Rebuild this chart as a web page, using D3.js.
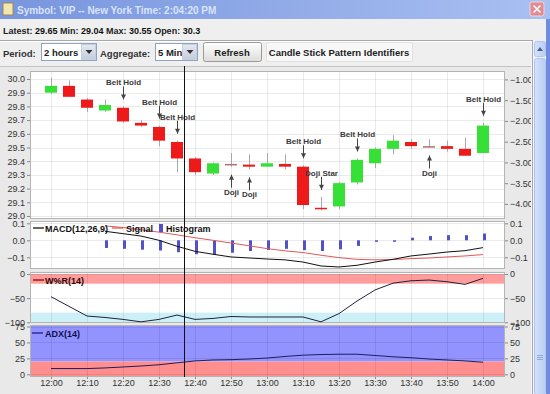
<!DOCTYPE html>
<html>
<head>
<meta charset="utf-8">
<script src="https://cdn.jsdelivr.net/npm/d3@7"></script>
<style>
body { margin: 0; background: #ebebeb; }
svg { display: block; font-family: "Liberation Sans", Arial, sans-serif; }
</style>
</head>
<body>
<script>
// Chart data (5 minute candles, 12:00 - 14:00)
var times = ["12:00","12:05","12:10","12:15","12:20","12:25","12:30","12:35","12:40","12:45","12:50","12:55",
             "13:00","13:05","13:10","13:15","13:20","13:25","13:30","13:35","13:40","13:45","13:50","13:55","14:00"];
var opens  = [29.90, 29.95, 29.85, 29.77, 29.79, 29.68, 29.65, 29.54, 29.42, 29.31, 29.38, 29.375, 29.36,
              29.38, 29.36, 29.06, 29.07, 29.245, 29.385, 29.49, 29.54, 29.51, 29.51, 29.49, 29.46];
var highs  = [30.01, 29.99, 29.86, 29.85, 29.80, 29.70, 29.66, 29.55, 29.43, 29.39, 29.46, 29.45, 29.46,
              29.45, 29.37, 29.14, 29.25, 29.42, 29.50, 29.59, 29.56, 29.56, 29.55, 29.57, 29.68];
var lows   = [29.89, 29.87, 29.76, 29.76, 29.68, 29.65, 29.51, 29.32, 29.30, 29.30, 29.36, 29.34, 29.36,
              29.34, 29.05, 29.04, 29.05, 29.23, 29.35, 29.45, 29.49, 29.50, 29.47, 29.44, 29.46];
var closes = [29.95, 29.87, 29.79, 29.81, 29.69, 29.66, 29.55, 29.42, 29.32, 29.385, 29.38, 29.36, 29.385,
              29.36, 29.08, 29.05, 29.24, 29.41, 29.49, 29.55, 29.51, 29.51, 29.49, 29.44, 29.66];

var macd      = [null, null, null, 0.053, 0.039, 0.025, 0.0, -0.035, -0.065, -0.082, -0.098, -0.104, -0.110,
                 -0.115, -0.128, -0.151, -0.157, -0.147, -0.128, -0.112, -0.092, -0.081, -0.069, -0.061, -0.043];
var signal    = [null, null, null, 0.085, 0.075, 0.062, 0.048, 0.032, 0.015, 0.0, -0.016, -0.032, -0.049,
                 -0.062, -0.072, -0.088, -0.102, -0.112, -0.115, -0.113, -0.108, -0.104, -0.098, -0.092, -0.084];
var histogram = [null, null, null, -0.045, -0.050, -0.055, -0.060, -0.070, -0.082, -0.085, -0.073, -0.063, -0.057,
                 -0.050, -0.058, -0.063, -0.053, -0.033, -0.005, -0.002, 0.015, 0.025, 0.030, 0.030, 0.040];
var williamsR = [-47, -67, -87, -90, -94, -99, -94, -85, -94, -92, -88, -89, -89,
                 -89, -89, -99, -82, -56, -33, -19, -14, -12.5, -16, -21.5, -9];
var adx       = [9, 9, 9, 10, 11.5, 13, 15, 18, 21, 22.5, 23, 24, 25.5,
                 28, 30, 31, 31.5, 31.5, 29.5, 27.5, 26, 24, 22.5, 21, 19];

// pattern markers: candle time, label, above / below
var patternTimes  = ["12:20", "12:30", "12:35", "13:10", "13:15", "13:25", "14:00", "12:50", "12:55", "13:45"];
var patternLabels = ["Belt Hold", "Belt Hold", "Belt Hold", "Belt Hold", "Doji Star", "Belt Hold", "Belt Hold", "Doji", "Doji", "Doji"];
var patternSides  = ["above", "above", "above", "above", "above", "above", "above", "below", "below", "below"];

// tick labels
var priceTicks = [29.0, 29.1, 29.2, 29.3, 29.4, 29.5, 29.6, 29.7, 29.8, 29.9, 30.0];
var pctTicks   = [-4.0, -3.5, -3.0, -2.5, -2.0, -1.5, -1.0];
var macdTicks  = [-0.1, 0.0, 0.1];
var wprTicks   = [-100, -50, 0];
var adxTicks   = [0, 25, 50, 75];

var infoLabels = ["Latest:", "Min:", "Max:", "Open:"];
var infoValues = ["29.65", "29.04", "30.55", "30.3"];
var openPrice = 30.3;
var crossTime = "12:37";

var parseTime = d3.timeParse("%H:%M");
var svgWidth = 550;
var svgHeight = 394;

var svg = d3.select("body")
            .append("svg")
            .attr("width", svgWidth)
            .attr("height", svgHeight);

var defs = svg.append("defs");
var tg = defs.append("linearGradient").attr("id", "titleGrad");
tg.append("stop").attr("offset", "0%").attr("stop-color", "#7895dd");
tg.append("stop").attr("offset", "100%").attr("stop-color", "#a9c0f2");
var bg = defs.append("linearGradient").attr("id", "btnGrad").attr("x1", 0).attr("x2", 0).attr("y1", 0).attr("y2", 1);
bg.append("stop").attr("offset", "0%").attr("stop-color", "#ffffff");
bg.append("stop").attr("offset", "100%").attr("stop-color", "#dcdcd8");
var ag = defs.append("linearGradient").attr("id", "arrowGrad").attr("x1", 0).attr("x2", 0).attr("y1", 0).attr("y2", 1);
ag.append("stop").attr("offset", "0%").attr("stop-color", "#e4e8f0");
ag.append("stop").attr("offset", "100%").attr("stop-color", "#c4ccdc");
var sg = defs.append("linearGradient").attr("id", "scrollGrad");
sg.append("stop").attr("offset", "0%").attr("stop-color", "#d4e2fb");
sg.append("stop").attr("offset", "100%").attr("stop-color", "#b8cdf4");

// ---- window chrome ----
svg.append("rect").attr("x", 0).attr("y", 0).attr("width", svgWidth).attr("height", 19).attr("fill", "url(#titleGrad)");
svg.append("rect").attr("x", 3).attr("y", 3).attr("width", 10).attr("height", 12)
   .attr("fill", "#f3e6b0").attr("stroke", "#a08850").attr("stroke-width", 1);
svg.append("text").attr("x", 17).attr("y", 14)
   .attr("font-size", "10px").attr("font-weight", "bold").attr("fill", "#d9e4fb")
   .text("Symbol: VIP -- New York Time: 2:04:20 PM");
svg.append("rect").attr("x", 530).attr("y", 2).attr("width", 14).attr("height", 14).attr("rx", 2)
   .attr("fill", "#e08c94").attr("stroke", "#f6d4d8");
svg.append("path").attr("d", "M533.5,5.5 L540.5,12.5 M540.5,5.5 L533.5,12.5")
   .attr("stroke", "#ffffff").attr("stroke-width", 1.6);

svg.append("rect").attr("x", 0).attr("y", 19).attr("width", svgWidth).attr("height", 47).attr("fill", "#efefef");

var info = svg.append("text").attr("x", 3).attr("y", 34)
              .attr("font-size", "9px").attr("font-weight", "bold").attr("fill", "#222");
infoLabels.forEach(function(l, i) {
    info.append("tspan").text((i ? " " : "") + l + " ");
    info.append("tspan").attr("fill", "#111").text(infoValues[i]);
});

svg.append("line").attr("x1", 0).attr("x2", 533).attr("y1", 40.5).attr("y2", 40.5).attr("stroke", "#a8a8a8");
svg.append("line").attr("x1", 0).attr("x2", 533).attr("y1", 41.5).attr("y2", 41.5).attr("stroke", "#ffffff");

function label(x, txt) {
    svg.append("text").attr("x", x).attr("y", 57)
       .attr("font-size", "9.5px").attr("font-weight", "bold").attr("fill", "#333").text(txt);
}
function combo(x, w, txt) {
    svg.append("rect").attr("x", x + 0.5).attr("y", 43.5).attr("width", w).attr("height", 17)
       .attr("fill", "#fff").attr("stroke", "#8ea4c4");
    svg.append("text").attr("x", x + 3).attr("y", 56)
       .attr("font-size", "9.5px").attr("font-weight", "bold").attr("fill", "#222").text(txt);
    svg.append("rect").attr("x", x + w - 14.5).attr("y", 44.5).attr("width", 14).attr("height", 15)
       .attr("fill", "url(#arrowGrad)").attr("stroke", "#c8d0dc");
    var cx = x + w - 7;
    svg.append("path").attr("d", "M" + (cx - 3.5) + ",50 L" + (cx + 3.5) + ",50 L" + cx + ",54 Z").attr("fill", "#333");
}
function button(x, w, txt, flat) {
    svg.append("rect").attr("x", x + 0.5).attr("y", 42.5).attr("width", w).attr("height", 19).attr("rx", 2)
       .attr("fill", flat ? "#f7f7f7" : "url(#btnGrad)").attr("stroke", flat ? "#e0e0e0" : "#9a9a9a");
    svg.append("text").attr("x", x + w / 2).attr("y", 56).attr("text-anchor", "middle")
       .attr("font-size", "9.5px").attr("font-weight", "bold").attr("fill", "#222").text(txt);
}
label(3, "Period:");
combo(41, 55, "2 hours");
label(100, "Aggregate:");
combo(155, 42, "5 Min");
button(203, 58, "Refresh", false);
button(266, 146, "Candle Stick Pattern Identifiers", true);

// chart area background
svg.append("rect").attr("x", 0).attr("y", 66).attr("width", 533).attr("height", svgHeight - 66).attr("fill", "#e9e9e9");
svg.append("line").attr("x1", 0).attr("x2", 533).attr("y1", 66.5).attr("y2", 66.5).attr("stroke", "#c4c4c4");

// ---- scales ----
var x = d3.scaleTime()
          .domain([parseTime("12:00"), parseTime("14:00")])
          .range([51, 483]);
var plotLeft = 30, plotRight = 505;

var yPrice = d3.scaleLinear().domain([29.0, 30.0]).range([216, 79]);
var yPct = d3.scaleLinear()
             .domain([(29.0 / openPrice - 1) * 100, (30.0 / openPrice - 1) * 100])
             .range([216, 79]);
var yMacd = d3.scaleLinear().domain([-0.1, 0.1]).range([257.3, 223.3]);
var yWpr = d3.scaleLinear().domain([-100, 0]).range([322.3, 274]);
var yAdx = d3.scaleLinear().domain([0, 75]).range([374.3, 326.5]);

var panels = [
    { top: 71, bottom: 219 },
    { top: 221, bottom: 269 },
    { top: 272, bottom: 323 },
    { top: 325, bottom: 377 }
];

panels.forEach(function(p, i) {
    svg.append("rect").attr("x", plotLeft).attr("y", p.top).attr("width", plotRight - plotLeft)
       .attr("height", p.bottom - p.top).attr("fill", "#fff");
    defs.append("clipPath").attr("id", "clip" + i)
        .append("rect").attr("x", plotLeft).attr("y", p.top).attr("width", plotRight - plotLeft).attr("height", p.bottom - p.top);
});

// threshold bands
function band(scale, v0, v1, color, panel) {
    var p = panels[panel];
    var y0 = Math.max(p.top, Math.min(scale(v0), scale(v1)));
    var y1 = Math.min(p.bottom, Math.max(scale(v0), scale(v1)));
    svg.append("rect").attr("x", plotLeft).attr("y", y0).attr("width", plotRight - plotLeft)
       .attr("height", y1 - y0).attr("fill", color);
}
band(yWpr, -20, 0, "#ff9c9c", 2);
band(yWpr, -100, -80, "#cdf0f8", 2);
band(yAdx, 20, 200, "#9393ff", 3);
band(yAdx, -10, 20, "#ff8e8e", 3);

// grid
var timeTicks = x.ticks(d3.timeMinute.every(10));
var gridColor = "rgba(0,0,0,0.08)";
panels.forEach(function(p) {
    svg.append("g").selectAll("line").data(timeTicks).enter().append("line")
       .attr("x1", d => x(d) + 0.5).attr("x2", d => x(d) + 0.5)
       .attr("y1", p.top).attr("y2", p.bottom)
       .attr("stroke", gridColor);
});
function hgrid(scale, ticks) {
    svg.append("g").selectAll("line").data(ticks).enter().append("line")
       .attr("x1", plotLeft).attr("x2", plotRight)
       .attr("y1", d => Math.round(scale(d)) + 0.5).attr("y2", d => Math.round(scale(d)) + 0.5)
       .attr("stroke", gridColor);
}
hgrid(yPrice, priceTicks);
hgrid(yMacd, macdTicks);
hgrid(yWpr, wprTicks);
hgrid(yAdx, adxTicks);

// panel borders
panels.forEach(function(p) {
    svg.append("rect").attr("x", plotLeft + 0.5).attr("y", p.top + 0.5).attr("width", plotRight - plotLeft - 1)
       .attr("height", p.bottom - p.top - 1).attr("fill", "none").attr("stroke", "#b4b4b4");
});

// ---- candles ----
var candles = times.map(function(t, i) {
    return { t: parseTime(t), o: opens[i], h: highs[i], l: lows[i], c: closes[i] };
});
var cg = svg.append("g").attr("clip-path", "url(#clip0)");
cg.selectAll("line.wick").data(candles).enter().append("line")
  .attr("x1", d => Math.round(x(d.t)) + 0.5).attr("x2", d => Math.round(x(d.t)) + 0.5)
  .attr("y1", d => yPrice(d.h)).attr("y2", d => yPrice(d.l))
  .attr("stroke", "#a8a8a8");
cg.selectAll("rect.body").data(candles).enter().append("rect")
  .attr("x", d => Math.round(x(d.t)) - 6)
  .attr("width", 12)
  .attr("y", d => yPrice(Math.max(d.o, d.c)))
  .attr("height", d => Math.max(1.5, yPrice(Math.min(d.o, d.c)) - yPrice(Math.max(d.o, d.c))))
  .attr("fill", d => d.c > d.o ? "#36e036" : (d.c < d.o ? "#ee1a1a" : "#b07070"));

// pattern markers
var pg = svg.append("g");
patternTimes.forEach(function(t, k) {
    var i = times.indexOf(t);
    var cx = Math.round(x(parseTime(t))) + 0.5;
    var tip, ty, y1, head;
    if (patternSides[k] == "above") {
        tip = yPrice(highs[i]) - 7;
        ty = tip - 17;
        y1 = tip - 13;
        head = "M" + (cx - 2.5) + "," + (tip - 5) + " L" + (cx + 2.5) + "," + (tip - 5) + " L" + cx + "," + tip + " Z";
    } else {
        tip = yPrice(lows[i]) + 8;
        ty = tip + 17;
        y1 = tip + 13;
        head = "M" + (cx - 2.5) + "," + (tip + 5) + " L" + (cx + 2.5) + "," + (tip + 5) + " L" + cx + "," + tip + " Z";
    }
    pg.append("line").attr("x1", cx).attr("x2", cx).attr("y1", y1).attr("y2", tip).attr("stroke", "#444");
    pg.append("path").attr("d", head).attr("fill", "#444");
    pg.append("text").attr("x", cx).attr("y", ty + 3).attr("text-anchor", "middle")
      .attr("font-size", "8px").attr("font-weight", "bold").attr("fill", "#3a3a3a")
      .text(patternLabels[k]);
});

// ---- MACD ----
var mg = svg.append("g").attr("clip-path", "url(#clip1)");
var hist = times.map((t, i) => ({ t: parseTime(t), v: histogram[i] })).filter(d => d.v != null);
mg.selectAll("rect").data(hist).enter().append("rect")
  .attr("x", d => Math.round(x(d.t)))
  .attr("width", 3)
  .attr("y", d => Math.min(yMacd(0), yMacd(d.v)))
  .attr("height", d => Math.max(1.5, Math.abs(yMacd(d.v) - yMacd(0))))
  .attr("fill", "#5252c8");

function seriesLine(values, scale) {
    var pts = times.map((t, i) => ({ t: parseTime(t), v: values[i] }));
    return d3.line().defined(d => d.v != null).x(d => x(d.t)).y(d => scale(d.v))(pts);
}
mg.append("path").attr("d", seriesLine(signal, yMacd)).attr("fill", "none").attr("stroke", "#e05a5a").attr("stroke-width", 1);
mg.append("path").attr("d", seriesLine(macd, yMacd)).attr("fill", "none").attr("stroke", "#111").attr("stroke-width", 1);

// ---- W%R and ADX ----
svg.append("g").attr("clip-path", "url(#clip2)")
   .append("path").attr("d", seriesLine(williamsR, yWpr)).attr("fill", "none").attr("stroke", "#22223a").attr("stroke-width", 1);
svg.append("g").attr("clip-path", "url(#clip3)")
   .append("path").attr("d", seriesLine(adx, yAdx)).attr("fill", "none").attr("stroke", "#1e1e60").attr("stroke-width", 1);

// legends
function legendLine(x0, y, color) {
    svg.append("line").attr("x1", x0).attr("x2", x0 + 11).attr("y1", y).attr("y2", y).attr("stroke", color).attr("stroke-width", 1.3);
}
function legendText(x0, y, txt, color) {
    svg.append("text").attr("x", x0).attr("y", y + 3.5)
       .attr("font-size", "9px").attr("font-weight", "bold").attr("fill", color || "#111").text(txt);
}
legendLine(33, 228, "#111");
legendText(45, 228, "MACD(12,26,9)");
legendLine(112, 228, "#e05a5a");
legendText(126, 228, "Signal");
svg.append("rect").attr("x", 159).attr("y", 224).attr("width", 4).attr("height", 8).attr("fill", "#5252c8");
legendText(166, 228, "Histogram");
legendLine(33, 280, "#7a1010");
legendText(45, 280, "W%R(14)", "#2a0a0a");
legendLine(32, 333, "#1e1e80");
legendText(45, 333, "ADX(14)", "#10104a");

// ---- axes ----
function styleAxis(g) {
    g.select(".domain").remove();
    g.selectAll("text").attr("font-size", "9px").attr("fill", "#333").attr("font-family", null);
    g.selectAll("line").attr("stroke", "#888");
}
function sideAxes(scale, ticks, fmtL) {
    svg.append("g").attr("transform", `translate(${plotLeft}, 0)`)
       .call(d3.axisLeft(scale).tickValues(ticks).tickFormat(fmtL).tickSize(3).tickPadding(2))
       .call(styleAxis);
}
sideAxes(yPrice, priceTicks, d3.format(".1f"));
sideAxes(yMacd, macdTicks, d3.format(".1f"));
sideAxes(yWpr, wprTicks, d3.format("d"));
sideAxes(yAdx, adxTicks, d3.format("d"));

function rightAxis(scale, ticks, fmt) {
    svg.append("g").attr("transform", `translate(${plotRight}, 0)`)
       .call(d3.axisRight(scale).tickValues(ticks).tickFormat(fmt).tickSize(3).tickPadding(2))
       .call(styleAxis);
}
rightAxis(yPct, pctTicks, d => d3.format(".2f")(d) + " %");
rightAxis(yMacd, macdTicks, d3.format(".1f"));
rightAxis(yWpr, wprTicks, d3.format("d"));
rightAxis(yAdx, adxTicks, d3.format("d"));

svg.append("g").attr("transform", `translate(0, ${panels[3].bottom})`)
   .call(d3.axisBottom(x).ticks(d3.timeMinute.every(10)).tickFormat(d3.timeFormat("%H:%M")).tickSize(2).tickPadding(1))
   .call(styleAxis);

// crosshair
svg.append("line")
   .attr("x1", Math.round(x(parseTime(crossTime))) + 0.5).attr("x2", Math.round(x(parseTime(crossTime))) + 0.5)
   .attr("y1", 66).attr("y2", panels[3].bottom)
   .attr("stroke", "#111");

// ---- scrollbar and frame ----
svg.append("rect").attr("x", 531).attr("y", 41).attr("width", 16).attr("height", svgHeight - 41).attr("fill", "#f2f5fc");
svg.append("line").attr("x1", 532.5).attr("x2", 532.5).attr("y1", 41).attr("y2", svgHeight).attr("stroke", "#a8a8a8");
svg.append("rect").attr("x", 534.5).attr("y", 41.5).attr("width", 11).attr("height", 15).attr("rx", 2)
   .attr("fill", "url(#scrollGrad)").attr("stroke", "#b0c4ec");
svg.append("path").attr("d", "M537,51 L543,51 L540,47 Z").attr("fill", "#4d6185");
svg.append("rect").attr("x", 534.5).attr("y", 58.5).attr("width", 11).attr("height", svgHeight - 58).attr("rx", 2)
   .attr("fill", "url(#scrollGrad)").attr("stroke", "#b0c4ec");
[355, 357, 359].forEach(function(y) {
    svg.append("line").attr("x1", 537).attr("x2", 543).attr("y1", y + 0.5).attr("y2", y + 0.5).attr("stroke", "#8ea8d8");
});
svg.append("rect").attr("x", 546).attr("y", 19).attr("width", 4).attr("height", svgHeight - 19).attr("fill", "#6f8ce0");
</script>
</body>
</html>
